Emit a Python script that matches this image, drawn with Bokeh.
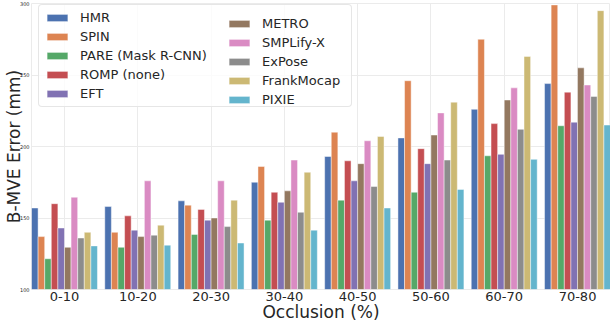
from bokeh.plotting import figure
from bokeh.models import ColumnDataSource, Range1d, FixedTicker, Legend, LegendItem
from bokeh.transform import dodge
from bokeh.embed import file_html
from bokeh.resources import INLINE

groups = ["0-10", "10-20", "20-30", "30-40", "40-50", "50-60", "60-70", "70-80"]
methods = ["HMR", "SPIN", "PARE (Mask R-CNN)", "ROMP (none)", "EFT",
           "METRO", "SMPLify-X", "ExPose", "FrankMocap", "PIXIE"]
hmr = [157, 158, 162, 175, 193, 206, 226, 244]
spin = [137, 140, 159, 186, 210, 246, 275, 299]
pare = [121.5, 129.5, 138.5, 148.5, 162.5, 168, 193.5, 214.5]
romp = [160, 151.5, 156, 168, 190, 198.5, 216, 238]
eft = [143, 141.5, 148.5, 161, 176, 188, 194.5, 217]
metro = [129.5, 137, 150, 169, 188, 208, 232.5, 255]
smplifyx = [164.5, 176, 176, 190.5, 204, 223.5, 241, 243]
expose = [136, 138, 144, 154, 172, 190.5, 212, 235]
frankmocap = [140, 145, 162.5, 182, 207, 231, 263, 295]
pixie = [130.5, 131, 132.5, 141.5, 157, 170, 191, 215]
y_ticks = [100, 150, 200, 250, 300]
x_title = "Occlusion (%)"
y_title = "B-MVE Error (mm)"

colors = ["#4C72B0", "#DD8452", "#55A868", "#C44E52", "#8172B3",
          "#937860", "#DA8BC3", "#8C8C8C", "#CCB974", "#64B5CD"]
series = [hmr, spin, pare, romp, eft, metro, smplifyx, expose, frankmocap, pixie]
keys = ["s%d" % i for i in range(len(series))]

data = {"x": list(range(len(groups))), "label": groups}
for k, s in zip(keys, series):
    data[k] = s
source = ColumnDataSource(data)

n = len(series)
bw = 0.9 / n

p = figure(width=610, height=324, output_backend="svg", toolbar_location=None,
           x_range=Range1d(-0.45, len(groups) - 0.55), y_range=Range1d(100, 300))
p.min_border_left = 0
p.min_border_right = 0
p.min_border_top = 3
p.min_border_bottom = 0
p.background_fill_color = "white"
p.outline_line_color = "#ebebeb"

items = []
for j, (k, c, m) in enumerate(zip(keys, colors, methods)):
    r = p.vbar(x=dodge("x", (j - (n - 1) / 2) * bw, range=p.x_range), top=k,
               bottom=100, width=bw, source=source, fill_color=c, fill_alpha=1.0,
               line_color="white", line_alpha=0.45, line_width=1)
    items.append(LegendItem(label=m, renderers=[r]))

p.xaxis.ticker = FixedTicker(ticks=list(range(len(groups))))
p.xaxis.major_label_overrides = {i: g for i, g in enumerate(groups)}
p.yaxis.ticker = FixedTicker(ticks=y_ticks)

for ax in (p.xaxis[0], p.yaxis[0]):
    ax.axis_line_color = None
    ax.major_tick_line_color = None
    ax.minor_tick_line_color = None
    ax.major_tick_out = 0
    ax.major_tick_in = 0
    ax.minor_tick_out = 0
    ax.axis_label_text_font = "DejaVu Sans"
    ax.axis_label_text_font_style = "normal"
    ax.axis_label_text_font_size = "17px"
    ax.axis_label_text_color = "#262626"
    ax.major_label_text_font = "DejaVu Sans"
    ax.major_label_text_color = "#262626"

p.xaxis.axis_label = x_title
p.yaxis.axis_label = y_title
p.xaxis.major_label_text_font_size = "13px"
p.yaxis.major_label_text_font_size = "5px"
p.xaxis.major_label_standoff = 2
p.yaxis.major_label_standoff = 2
p.xaxis.axis_label_standoff = -2
p.yaxis.axis_label_standoff = -7

p.xgrid.ticker = FixedTicker(ticks=list(range(len(groups))))
p.xgrid.grid_line_color = "#ebebeb"
p.ygrid.grid_line_color = "#ebebeb"


def style_legend(lg):
    lg.label_text_font = "DejaVu Sans"
    lg.label_text_font_size = "13px"
    lg.label_text_color = "#262626"
    lg.glyph_width = 26
    lg.glyph_height = 9
    lg.label_standoff = 10
    lg.spacing = 4
    lg.padding = 5
    lg.margin = 0


legend_a = Legend(items=items[:5], location=(7, 182), orientation="vertical")
style_legend(legend_a)
legend_a.label_width = 266
legend_a.background_fill_color = "white"
legend_a.background_fill_alpha = 0.8
legend_a.border_line_color = "#e0e0e0"
legend_a.border_line_alpha = 0.8
legend_a.border_radius = 4

legend_b = Legend(items=items[5:], location=(195, 182), orientation="vertical")
style_legend(legend_b)
legend_b.background_fill_alpha = 0
legend_b.border_line_color = None

p.add_layout(legend_a, "center")
p.add_layout(legend_b, "center")

open("out.html", "w").write(file_html(p, INLINE))
